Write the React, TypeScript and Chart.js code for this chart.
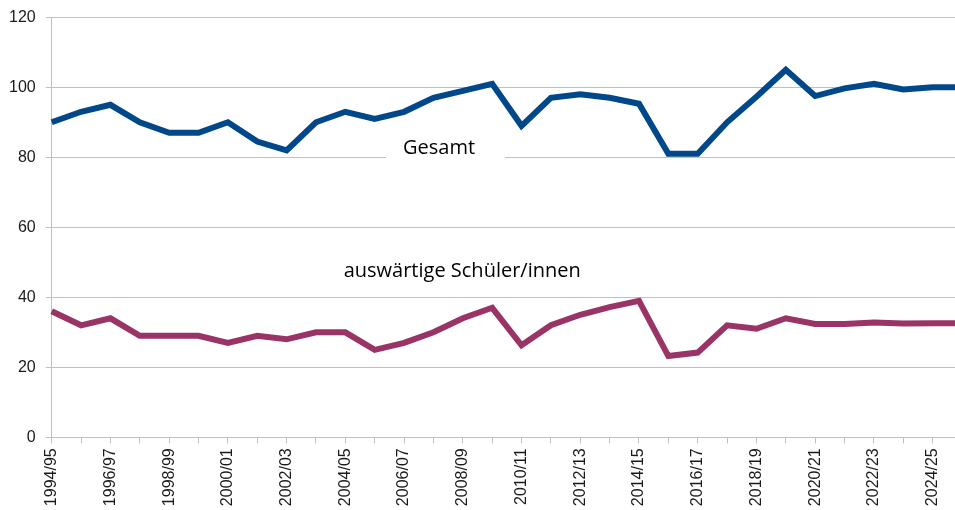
import React, { useEffect, useRef } from 'react';
import { Chart, registerables } from 'chart.js';

Chart.register(...registerables);

const categories = [
  '1994/95', '1995/96', '1996/97', '1997/98', '1998/99', '1999/00', '2000/01', '2001/02',
  '2002/03', '2003/04', '2004/05', '2005/06', '2006/07', '2007/08', '2008/09', '2009/10',
  '2010/11', '2011/12', '2012/13', '2013/14', '2014/15', '2015/16', '2016/17', '2017/18',
  '2018/19', '2019/20', '2020/21', '2021/22', '2022/23', '2023/24', '2024/25', '2025/26',
];

const gesamt = [
  90, 93, 95, 90, 87, 87, 90, 84.5, 82, 90, 93, 91, 93, 97, 99, 101,
  89, 97, 98, 97, 95.3, 81, 81, 90, 97.3, 105, 97.5, 99.7, 101, 99.4, 100, 100,
];

const auswaertige = [
  36, 32, 34, 29, 29, 29, 27, 29, 28, 30, 30, 25, 27, 30, 34, 37,
  26.3, 32, 35, 37.2, 39, 23.2, 24.2, 32, 31, 34, 32.4, 32.4, 32.8, 32.5, 32.6, 32.6,
];

const yTicks = [0, 20, 40, 60, 80, 100, 120];

const seriesNames = ['Gesamt', 'auswärtige Schüler/innen'];

// label anchors in data coordinates (category index, value)
const labelAnchors = [
  { text: seriesNames[0], index: 13.19, value: 80.85, box: { index: 13.41, value: 81.3, w: 119, h: 32 } },
  { text: seriesNames[1], index: 13.98, value: 45.8, box: null },
];

const labelPlugin = {
  id: 'seriesLabels',
  beforeDatasetsDraw(chart: any) {
    const { ctx, scales } = chart;
    const x = scales.x;
    const y = scales.y;
    ctx.save();
    for (const l of labelAnchors) {
      if (l.box) {
        const bx = x.getPixelForValue(l.box.index);
        const by = y.getPixelForValue(l.box.value);
        ctx.fillStyle = '#ffffff';
        ctx.fillRect(bx - l.box.w / 2, by - l.box.h / 2, l.box.w, l.box.h);
      }
    }
    ctx.restore();
  },
  afterDatasetsDraw(chart: any) {
    const { ctx, scales } = chart;
    const x = scales.x;
    const y = scales.y;
    ctx.save();
    ctx.font = '20px "Open Sans"';
    ctx.fillStyle = '#000000';
    ctx.textAlign = 'center';
    ctx.textBaseline = 'alphabetic';
    for (const l of labelAnchors) {
      ctx.fillText(l.text, x.getPixelForValue(l.index), y.getPixelForValue(l.value));
    }
    ctx.restore();
  },
};

export default function App() {
  const canvasRef = useRef<HTMLCanvasElement | null>(null);

  useEffect(() => {
    const canvas = canvasRef.current;
    if (!canvas) return;
    const tickFont = { family: '"Liberation Sans", Arial, sans-serif', size: 16 };
    const chart = new Chart(canvas, {
      type: 'line',
      data: {
        labels: categories,
        datasets: [
          {
            label: seriesNames[0],
            data: gesamt,
            borderColor: '#00488a',
            backgroundColor: '#00488a',
            borderWidth: 6,
            pointRadius: 0,
            tension: 0,
          },
          {
            label: seriesNames[1],
            data: auswaertige,
            borderColor: '#9a3366',
            backgroundColor: '#9a3366',
            borderWidth: 6,
            pointRadius: 0,
            tension: 0,
          },
        ],
      },
      options: {
        responsive: false,
        animation: false,
        devicePixelRatio: 1,
        layout: { padding: { left: 0, right: 8, top: 17.3, bottom: 0 } },
        plugins: {
          legend: { display: false },
          tooltip: { enabled: false },
        },
        scales: {
          x: {
            type: 'category',
            offset: false,
            grid: {
              drawOnChartArea: false,
              drawTicks: true,
              tickLength: 6,
              color: '#bfbfbf',
            },
            border: { color: '#bfbfbf', width: 1 },
            ticks: {
              autoSkip: false,
              minRotation: 90,
              maxRotation: 90,
              padding: 5,
              color: '#1a1a1a',
              font: tickFont,
              callback: (_v: any, i: number) => (i % 2 === 0 ? categories[i] : ''),
            },
            afterFit: (scale: any) => {
              scale.height = 72.7;
              scale.paddingLeft = 0;
              scale.paddingRight = 0;
            },
          },
          y: {
            min: 0,
            max: 120,
            afterBuildTicks: (scale: any) => {
              scale.ticks = yTicks.map((v) => ({ value: v }));
            },
            grid: {
              drawOnChartArea: true,
              drawTicks: true,
              tickLength: 6,
              color: '#c0c0c0',
            },
            border: { color: '#bfbfbf', width: 1 },
            ticks: {
              padding: 10,
              color: '#1a1a1a',
              font: tickFont,
            },
            afterFit: (scale: any) => {
              scale.width = 51.7;
              scale.paddingTop = 0;
              scale.paddingBottom = 0;
            },
          },
        },
      },
      plugins: [labelPlugin],
    });
    return () => chart.destroy();
  }, []);

  return (
    <div
      style={{
        position: 'fixed',
        left: 0,
        top: 0,
        width: 955,
        height: 510,
        overflow: 'hidden',
        background: '#ffffff',
      }}
    >
      <canvas
        ref={canvasRef}
        width={970}
        height={510}
        style={{ display: 'block', width: 970, height: 510, maxWidth: 'none' }}
      />
    </div>
  );
}
